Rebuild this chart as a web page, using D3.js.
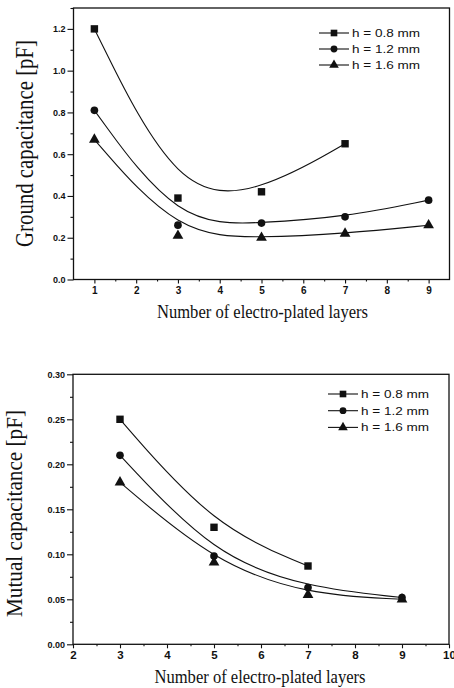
<!DOCTYPE html>
<html>
<head>
<meta charset="utf-8">
<script src="https://cdn.jsdelivr.net/npm/d3@7"></script>
<style>
  body { margin: 0; background: #fff; }
  svg { display: block; }
  .tick text { font-family: "Liberation Sans", Arial, sans-serif; fill: #111; }
  .title { font-family: "Liberation Serif", "Times New Roman", serif; fill: #111; }
  .legend text { font-family: "Liberation Sans", Arial, sans-serif; font-size: 11.5px; fill: #111; }
</style>
</head>
<body>
<svg id="chart" width="454" height="688"></svg>
<script>
// values
const seriesLabels = ["h = 0.8 mm", "h = 1.2 mm", "h = 1.6 mm"];

const groundLayers = [1, 3, 5, 7, 9];
const groundH08 = [1.20, 0.39, 0.42, 0.65];
const groundH12 = [0.81, 0.26, 0.27, 0.30, 0.38];
const groundH16 = [0.67, 0.21, 0.20, 0.22, 0.26];

const mutualLayers = [3, 5, 7, 9];
const mutualH08 = [0.25, 0.13, 0.087];
const mutualH12 = [0.21, 0.098, 0.063, 0.052];
const mutualH16 = [0.18, 0.091, 0.055, 0.050];

const groundXTicks = [1, 2, 3, 4, 5, 6, 7, 8, 9];
const groundYTicks = [0, 0.2, 0.4, 0.6, 0.8, 1.0, 1.2];
const mutualXTicks = [2, 3, 4, 5, 6, 7, 8, 9, 10];
const mutualYTicks = [0, 0.05, 0.10, 0.15, 0.20, 0.25, 0.30];

const symbols = [d3.symbolSquare, d3.symbolCircle, d3.symbolTriangle];
const symbolSizes = [55, 46, 50];

const svg = d3.select("#chart");

/* draws one panel: frame, axes with minor ticks, B-spline curves and markers, legend and titles */
function drawPanel(cfg) {
    const x = d3.scaleLinear().domain(cfg.xDomain).range([cfg.left, cfg.right]);
    const y = d3.scaleLinear().domain(cfg.yDomain).range([cfg.bottom, cfg.top]);
    const g = svg.append("g");

    // y axis major + minor
    g.append("g")
        .attr("transform", `translate(${cfg.left},0)`)
        .call(d3.axisLeft(y).tickValues(cfg.yTicks).tickSize(6).tickPadding(2).tickFormat(d3.format(cfg.yFormat)))
        .call(a => a.selectAll("text").style("font-size", cfg.yFont + "px").style("font-weight", "bold"));
    g.append("g")
        .attr("transform", `translate(${cfg.left},0)`)
        .call(d3.axisLeft(y).tickValues(cfg.yTicks.slice(0, -1).map((d, i) => (d + cfg.yTicks[i + 1]) / 2).concat(cfg.yExtraMinor || [])).tickSize(3).tickFormat(""));

    // x axis major + minor
    g.append("g")
        .attr("transform", `translate(0,${cfg.bottom})`)
        .call(d3.axisBottom(x).tickValues(cfg.xTicks).tickSize(4).tickPadding(3))
        .call(a => a.selectAll("text").style("font-size", cfg.xFont + "px").style("font-weight", "bold"));
    g.append("g")
        .attr("transform", `translate(0,${cfg.bottom})`)
        .call(d3.axisBottom(x).tickValues(cfg.xTicks.slice(0, -1).map((d, i) => (d + cfg.xTicks[i + 1]) / 2)).tickSize(2).tickFormat(""));

    g.selectAll(".domain").remove();
    g.selectAll(".tick line").attr("stroke", "#111").attr("stroke-width", 1.1);

    // frame
    g.append("rect")
        .attr("x", cfg.left).attr("y", cfg.top)
        .attr("width", cfg.right - cfg.left).attr("height", cfg.bottom - cfg.top)
        .attr("fill", "none").attr("stroke", "#111").attr("stroke-width", 1.3);

    const line = d3.line().x(d => x(d[0])).y(d => y(d[1])).curve(d3.curveBasis);

    cfg.series.forEach((vals, i) => {
        const pts = vals.map((v, j) => [cfg.layers[j], v]);
        g.append("path")
            .attr("d", line(pts))
            .attr("fill", "none")
            .attr("stroke", "#111")
            .attr("stroke-width", 1.1);
        g.selectAll(null)
            .data(pts)
            .enter().append("path")
            .attr("d", d3.symbol(symbols[i], symbolSizes[i]))
            .attr("transform", d => `translate(${x(d[0])},${y(d[1])})`)
            .attr("fill", "#111");
    });

    // legend
    const lg = g.append("g").attr("class", "legend");
    seriesLabels.forEach((label, i) => {
        const ly = cfg.legend.y + i * cfg.legend.step;
        lg.append("line")
            .attr("x1", cfg.legend.x).attr("x2", cfg.legend.x + 30)
            .attr("y1", ly).attr("y2", ly)
            .attr("stroke", "#111").attr("stroke-width", 1.1);
        lg.append("path")
            .attr("d", d3.symbol(symbols[i], symbolSizes[i] * 0.8))
            .attr("transform", `translate(${cfg.legend.x + 15},${ly})`)
            .attr("fill", "#111");
        lg.append("text")
            .attr("x", cfg.legend.x + 33).attr("y", ly + 4)
            .attr("textLength", 68).attr("lengthAdjust", "spacingAndGlyphs")
            .text(label);
    });

    // titles
    g.append("text")
        .attr("class", "title")
        .attr("transform", `translate(${cfg.yTitle.x},${cfg.yTitle.y}) rotate(-90)`)
        .attr("text-anchor", "middle")
        .attr("textLength", 207).attr("lengthAdjust", "spacingAndGlyphs")
        .style("font-size", cfg.yTitle.size + "px")
        .text(cfg.yTitle.text);
    g.append("text")
        .attr("class", "title")
        .attr("x", cfg.xTitle.x).attr("y", cfg.xTitle.y)
        .attr("text-anchor", "middle")
        .attr("textLength", 211).attr("lengthAdjust", "spacingAndGlyphs")
        .style("font-size", "18px")
        .text("Number of electro-plated layers");
}

drawPanel({
    xDomain: [0.5, 9.5], yDomain: [0, 1.3],
    left: 73.5, right: 449.5, top: 8, bottom: 279.5,
    xTicks: groundXTicks, yTicks: groundYTicks, yExtraMinor: [1.3],
    yFormat: ".1f", yFont: 9, xFont: 10,
    layers: groundLayers,
    series: [groundH08, groundH12, groundH16],
    legend: { x: 319, y: 33, step: 16 },
    yTitle: { x: 32.5, y: 143.5, size: 25, text: "Ground capacitance [pF]" },
    xTitle: { x: 262.5, y: 318 }
});

drawPanel({
    xDomain: [2, 10], yDomain: [0, 0.30],
    left: 73, right: 449, top: 374.3, bottom: 644.3,
    xTicks: mutualXTicks, yTicks: mutualYTicks,
    yFormat: ".2f", yFont: 9, xFont: 11.5,
    layers: mutualLayers,
    series: [mutualH08, mutualH12, mutualH16],
    legend: { x: 328, y: 394, step: 16.7 },
    yTitle: { x: 22, y: 513.5, size: 24, text: "Mutual capacitance [pF]" },
    xTitle: { x: 260, y: 683 }
});
</script>
</body>
</html>
